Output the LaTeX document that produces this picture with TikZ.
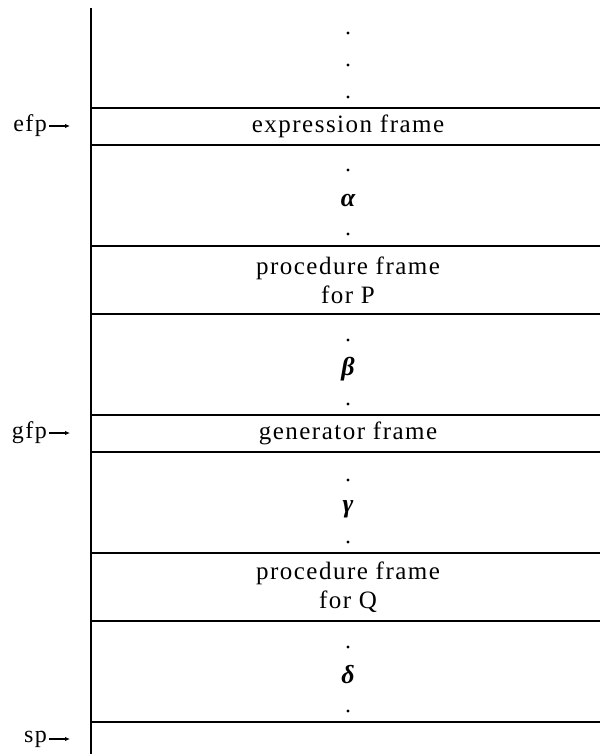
\documentclass[tikz,border=0pt]{standalone}
\usepackage{fontspec}
\setmainfont[LetterSpace=6]{Liberation Serif}
\usetikzlibrary{arrows.meta}
\begin{document}
\begin{tikzpicture}[x=1pt,y=1pt,
  rule/.style={line width=1.6pt},
  lab/.style={font=\fontsize{25}{29}\selectfont, inner sep=0pt, align=center},
  greek/.style={font=\fontsize{26}{28}\selectfont\bfseries\itshape, inner sep=0pt},
  dotm/.style={circle, fill, inner sep=0pt, minimum size=3.2pt},
  ptrlab/.style={font=\fontsize{24}{26}\selectfont, inner sep=0pt, anchor=east},
  ptr/.style={line width=1.2pt, -{Latex[length=5pt,width=4.5pt]}}]
\useasboundingbox (0,0) rectangle (600,-754);
% stack wall
\coordinate (top) at (91,-8);
\coordinate (bot) at (91,-754);
\draw[rule] (top) -- (bot);
% horizontal rules
\foreach \n/\y in {1/108.2,2/145,3/246,4/314,5/415,6/452,7/553,8/621,9/722}{
  \coordinate (h\n a) at (91,-\y);
  \coordinate (h\n b) at (600,-\y);
  \draw[rule] (h\n a) -- (h\n b);
}
% dots
\foreach \n/\y in {1/33,2/65,3/97,4/170,5/234,6/340,7/404,8/480,9/542,10/647,11/711}{
  \node[dotm] (d\n) at (348,-\y) {};
}
% frames
\node[lab] (ef) at (348,-126.5) {expression frame};
\node[lab] (pp) at (348,-280) {procedure frame\\for P};
\node[lab] (gf) at (348,-433.5) {generator frame};
\node[lab] (pq) at (348,-587) {procedure frame\\for Q};
% greek
\node[greek] (ga) at (348,-201) {α};
\node[greek] (gb) at (348,-369) {β};
\node[greek] (gc) at (348,-509) {γ};
\node[greek] (gd) at (348,-675) {δ};
% pointers
\node[ptrlab] (efp) at (47,-126) {efp};
\node[ptrlab] (gfp) at (47,-433) {gfp};
\node[ptrlab] (sp) at (47,-739) {sp};
\coordinate (efpt) at (70,-126);
\coordinate (gfpt) at (70,-433);
\coordinate (spt) at (70,-739);
\draw[ptr] ([xshift=2pt]efp.east |- efpt) -- (efpt);
\draw[ptr] ([xshift=2pt]gfp.east |- gfpt) -- (gfpt);
\draw[ptr] ([xshift=2pt]sp.east |- spt) -- (spt);
\end{tikzpicture}
\end{document}
